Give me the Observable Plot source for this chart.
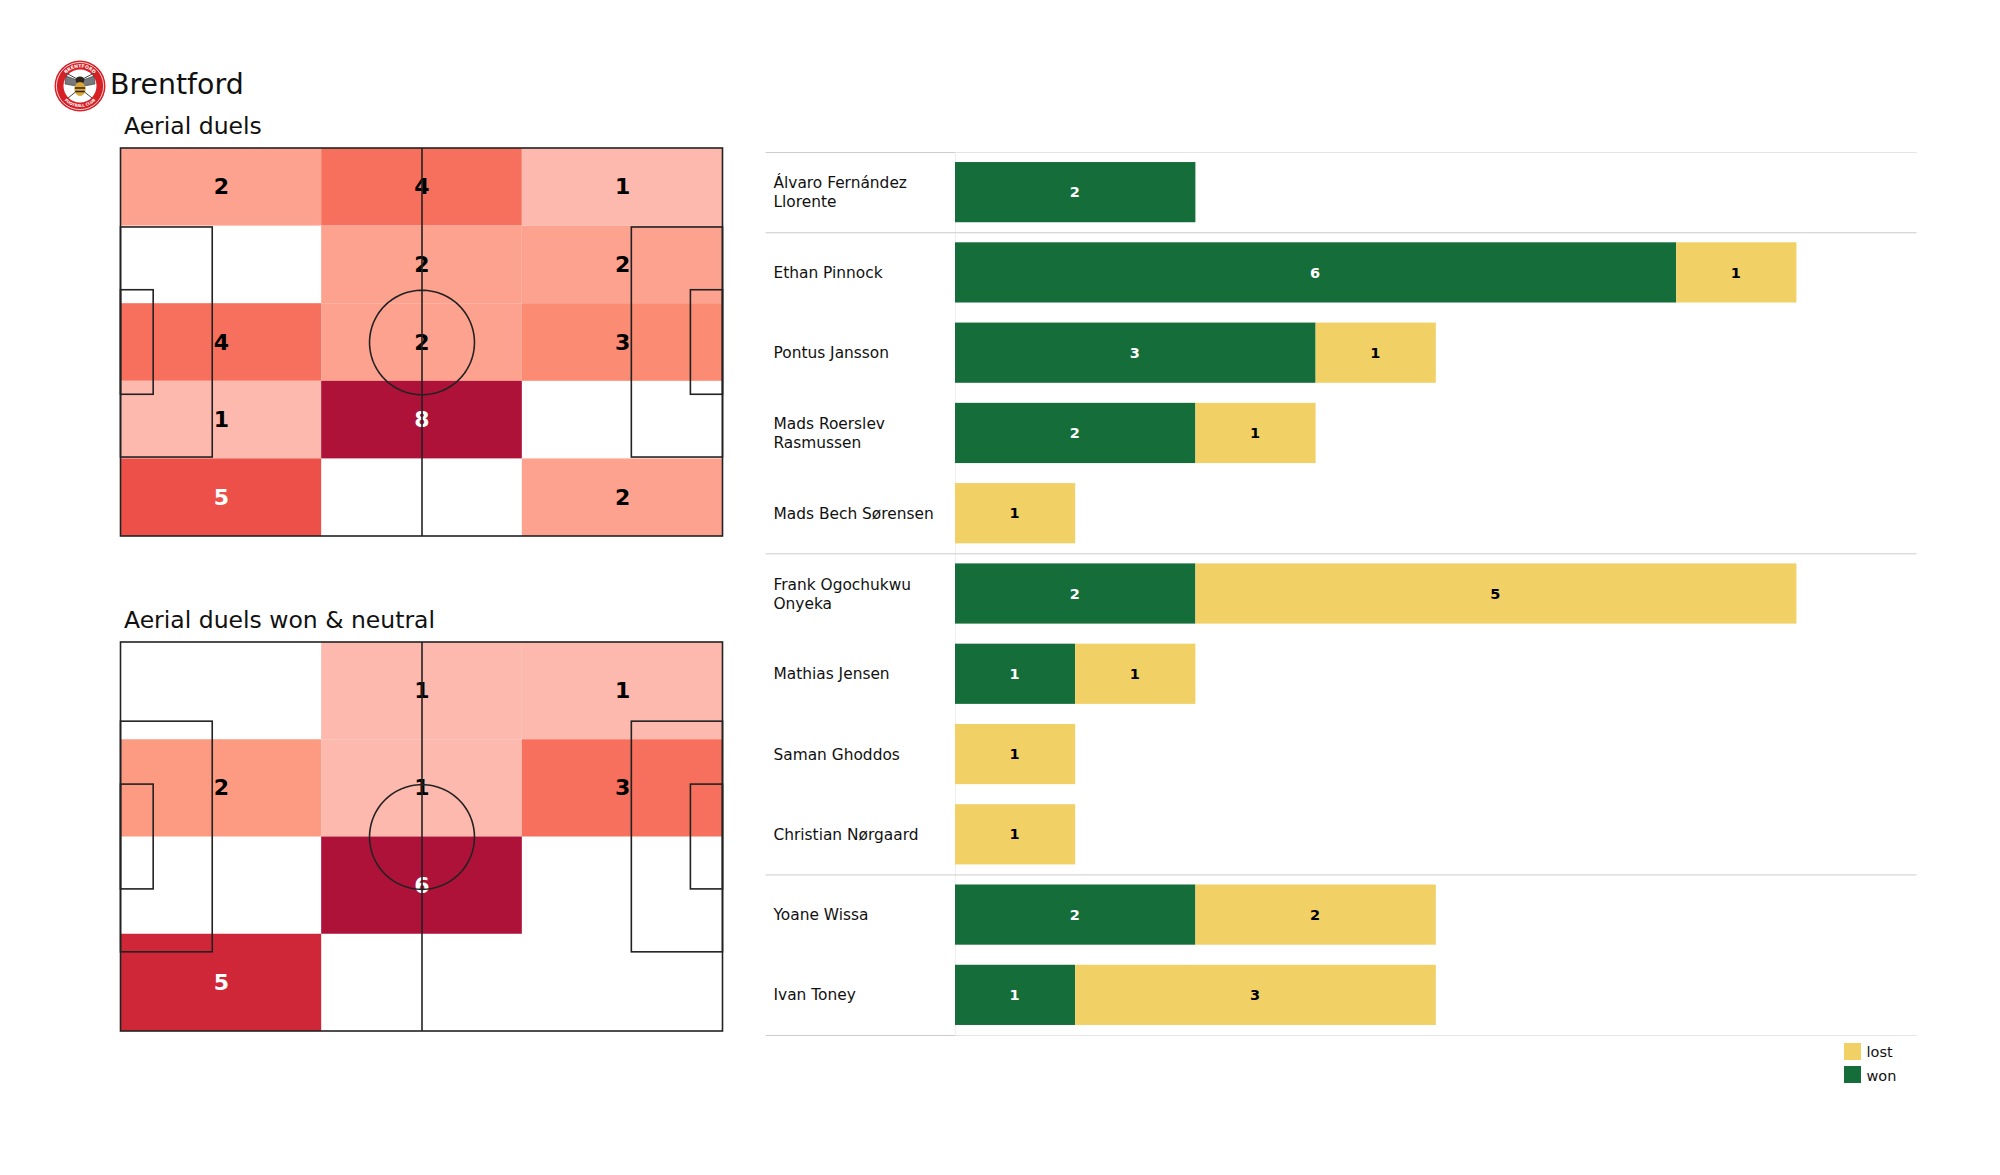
<!DOCTYPE html>
<html><head><meta charset="utf-8">
<script src="https://cdn.jsdelivr.net/npm/d3@7"></script>
<script src="https://cdn.jsdelivr.net/npm/@observablehq/plot@0.6"></script>
<style>
html,body{margin:0;padding:0;background:#fff}
#root{position:relative;width:2000px;height:1175px;overflow:hidden;font-family:"DejaVu Sans",sans-serif;color:#111}
#root>*{position:absolute}
.h1{font-size:28.4px;left:110px;top:66.5px;line-height:36px}
.h2{font-size:23.5px;left:124px;line-height:30px}
.lg{font-size:14.5px;left:1866.5px;line-height:18px}
.sw{left:1844px;width:17px;height:17px}
</style></head><body><div id="root"></div>
<script>
const pitchLength = 105, pitchWidth = 68;
const colEdges = [0, 35, 70, 105];
const duelsAll = [[2,4,1],[0,2,2],[4,2,3],[1,8,0],[5,0,2]];
const duelsWon = [[0,1,1],[2,1,3],[0,6,0],[5,0,0]];
const allColorDomain = [1,2,3,4,5,8];
const allColorRange = ["#fdb9ad","#fda28f","#fb8b73","#f6705d","#ec5048","#ae1239"];
const wonColorDomain = [1,2,3,5,6];
const wonColorRange = ["#fdb9ad","#fc9a82","#f6705d","#cf2738","#ae1239"];

const players = ["Álvaro Fernández\nLlorente","Ethan Pinnock","Pontus Jansson","Mads Roerslev\nRasmussen","Mads Bech Sørensen","Frank Ogochukwu\nOnyeka","Mathias Jensen","Saman Ghoddos","Christian Nørgaard","Yoane Wissa","Ivan Toney"];
const won  = [2,6,3,2,0,2,1,0,0,2,1];
const lost = [0,1,1,1,1,5,1,1,1,2,3];
const groupEnds = ["Álvaro Fernández\nLlorente","Mads Bech Sørensen","Christian Nørgaard","Ivan Toney"];
const resultOrder = ["won","lost"];
const resultColors = ["#156e3a","#f1d066"];

const root = document.getElementById("root");
function place(el,left,top){el.style.left=left+"px";el.style.top=top+"px";root.appendChild(el);}

function pitch(rows, domain, range, height){
  const rowH = pitchWidth/rows.length;
  const cells = rows.flatMap((r,i)=>r.map((v,j)=>({v,x1:colEdges[j],x2:colEdges[j+1],y1:i*rowH,y2:(i+1)*rowH}))).filter(d=>d.v>0);
  const cx = pitchLength/2, cy = pitchWidth/2;
  const boxes = [
    [0,16,13.84,54.16],[89.1,105,13.84,54.16],
    [0,5.7,24.84,43.16],[99.4,105,24.84,43.16],
    [0,105,0,68]
  ].map(([x1,x2,y1,y2])=>({x1,x2,y1,y2}));
  const circle = d3.range(0,361,3).map(a=>({x:cx+9.15*Math.cos(a*Math.PI/180),y:cy+9.15*Math.sin(a*Math.PI/180)}));
  return Plot.plot({
    width:640,height:height+20,marginLeft:20.5,marginRight:17.5,marginTop:10,marginBottom:10,
    x:{domain:[0,pitchLength],axis:null},
    y:{domain:[0,pitchWidth],axis:null,reverse:true},
    color:{type:"ordinal",domain,range},
    style:{background:"transparent",overflow:"visible"},
    marks:[
      Plot.rect(cells,{x1:"x1",x2:"x2",y1:"y1",y2:"y2",fill:"v"}),
      Plot.text(cells,{x:d=>(d.x1+d.x2)/2,y:d=>(d.y1+d.y2)/2,text:d=>String(d.v),fontSize:22,fontWeight:"bold",fontFamily:"DejaVu Sans",fill:d=>d.v>=5?"#fff":"#000"}),
      Plot.rect(boxes,{x1:"x1",x2:"x2",y1:"y1",y2:"y2",fill:"none",stroke:"#222",strokeWidth:1.6}),
      Plot.ruleX([cx],{y1:0,y2:pitchWidth,stroke:"#222",strokeWidth:1.6}),
      Plot.line(circle,{x:"x",y:"y",stroke:"#222",strokeWidth:1.6})
    ]
  });
}
place(pitch(duelsAll,allColorDomain,allColorRange,388),100,138);
place(pitch(duelsWon,wonColorDomain,wonColorRange,389),100,632);

const table = players.flatMap((p,i)=>[{player:p,result:"won",value:won[i]},{player:p,result:"lost",value:lost[i]}]).filter(d=>d.value>0);
const stack = {x:"value",y:"player",order:resultOrder};
const bars = Plot.plot({
  width:1190,height:903,marginLeft:190,marginRight:38.4,marginTop:10,marginBottom:10,
  x:{domain:[0,8],axis:null},
  y:{domain:players,axis:null,paddingInner:0.25,paddingOuter:0.125,align:0.5,round:false},
  color:{domain:resultOrder,range:resultColors},
  style:{background:"transparent",overflow:"visible"},
  marks:[
    Plot.ruleX([0],{stroke:"#eeeeee",strokeWidth:1}),
    Plot.ruleY(players.slice(0,1),{y:d=>d,dy:-40.1,x1:0,x2:8,stroke:"#e4e4e4",strokeWidth:1}),
    Plot.ruleY(players.slice(0,1),{y:d=>d,dy:-40.1,x1:-1.575,x2:0,stroke:"#cccccc",strokeWidth:1}),
    Plot.ruleY(groupEnds.slice(0,3),{y:d=>d,dy:40.1,x1:-1.575,x2:8,stroke:"#cccccc",strokeWidth:1}),
    Plot.ruleY(groupEnds.slice(3),{y:d=>d,dy:40.1,x1:0,x2:8,stroke:"#e4e4e4",strokeWidth:1}),
    Plot.ruleY(groupEnds.slice(3),{y:d=>d,dy:40.1,x1:-1.575,x2:0,stroke:"#cccccc",strokeWidth:1}),
    Plot.barX(table,Plot.stackX({...stack,fill:"result"})),
    Plot.text(table,Plot.stackX({...stack,text:d=>String(d.value),fontSize:14.5,fontWeight:"bold",fontFamily:"DejaVu Sans",fill:d=>d.result==="won"?"#fff":"#000",dx:-1})),
    Plot.text(players,{x:0,y:d=>d,text:d=>d,dx:-182,dy:-1,textAnchor:"start",lineHeight:1.24,fontSize:15.4,fontFamily:"DejaVu Sans",fill:"#111"})
  ]
});
place(bars,765.3,142.3);

function div(cls,txt,top){const e=document.createElement("div");e.className=cls;e.textContent=txt;if(top!=null)e.style.top=top+"px";root.appendChild(e);return e;}
div("h1","Brentford");
div("h2","Aerial duels",111);
div("h2","Aerial duels won & neutral",605);
const sw=(c,t)=>{const e=div("sw","",t);e.style.background=c;};
sw(resultColors[1],1043);sw(resultColors[0],1066);
div("lg","lost",1043);div("lg","won",1066.5);

// crest
const crest=document.createElement("div");
crest.style.cssText="left:54px;top:60px;width:52px;height:52px";
crest.innerHTML=`<svg width="52" height="52" viewBox="0 0 52 52">
<defs><path id="arcT" d="M7.5 26a18.5 18.5 0 0 1 37 0"/><path id="arcB" d="M5 26a21 21 0 0 0 42 0"/></defs>
<circle cx="26" cy="26" r="25.5" fill="#d71f26"/><circle cx="26" cy="26" r="23.6" fill="none" stroke="#fff" stroke-width=".8"/>
<circle cx="26" cy="26" r="16.5" fill="#fff"/>
<text font-size="4.6" font-weight="bold" fill="#fff" font-family="DejaVu Sans" text-anchor="middle"><textPath href="#arcT" startOffset="50%">BRENTFORD</textPath></text>
<text font-size="3.8" font-weight="bold" fill="#fff" font-family="DejaVu Sans" text-anchor="middle"><textPath href="#arcB" startOffset="50%">FOOTBALL CLUB</textPath></text>
<path d="M25 20L12 13M27 20L40 13M24 30L14 38M28 30L38 38" stroke="#444" stroke-width="1"/>
<path d="M23 20L12 16 11 24 22 26ZM29 20L40 16 41 24 30 26Z" fill="#77797c" stroke="#333" stroke-width=".6"/>
<ellipse cx="26" cy="20" rx="4.3" ry="3.5" fill="#2b2418"/>
<ellipse cx="26" cy="29" rx="5.6" ry="7" fill="#d9a63a"/>
<path d="M20.8 28h10.4M21.2 31.5h9.6" stroke="#30230f" stroke-width="1.4"/>
</svg>`;
root.appendChild(crest);
</script></body></html>
